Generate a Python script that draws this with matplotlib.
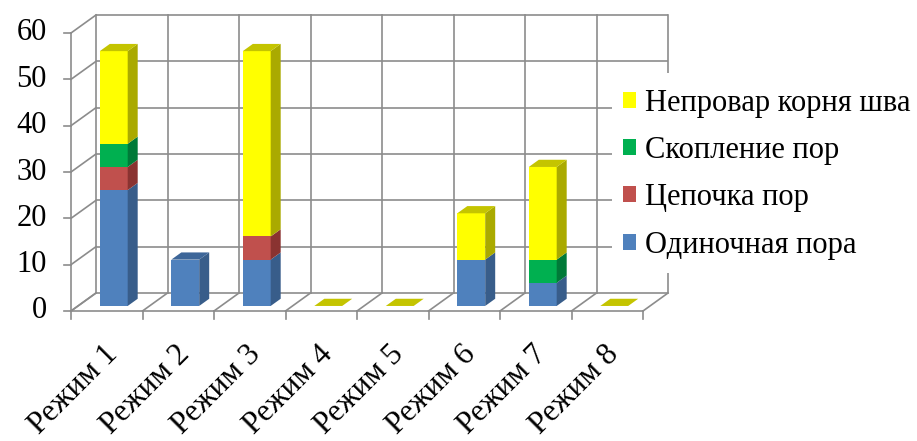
import matplotlib
matplotlib.use("Agg")
import matplotlib.pyplot as plt
from matplotlib.patches import Polygon, Rectangle, Patch
import numpy as np

categories = ["Режим 1", "Режим 2", "Режим 3", "Режим 4", "Режим 5", "Режим 6", "Режим 7", "Режим 8"]
series_names = ["Одиночная пора", "Цепочка пор", "Скопление пор", "Непровар корня шва"]
single_pore = [25, 10, 10, 0, 0, 10, 5, 0]
pore_chain = [5, 0, 5, 0, 0, 0, 0, 0]
pore_cluster = [5, 0, 0, 0, 0, 0, 5, 0]
lack_of_fusion = [20, 0, 40, 0, 0, 10, 20, 0]
y_ticks = [0, 10, 20, 30, 40, 50, 60]

series = [single_pore, pore_chain, pore_cluster, lack_of_fusion]
front_colors = ["#4F81BD", "#C0504D", "#00B050", "#FFFF00"]
side_colors = ["#385D8A", "#8A3331", "#007A38", "#AAAA00"]
top_colors = ["#3D6699", "#9A3A37", "#008A40", "#C4C400"]

plt.rcParams['font.family'] = ['Liberation Serif', 'DejaVu Serif']
FS = 22

W, H = 917, 441
fig = plt.figure(figsize=(W / 100, H / 100), dpi=100)
ax = fig.add_axes([0, 0, 1, 1])
ax.axis('off')

PX = 71.5            # pixels per category
PY = 278 / 60        # pixels per value unit
x0px, y0px = 71, 130
ax.set_xlim(-x0px / PX, (W - x0px) / PX)
ax.set_ylim(-y0px / PY, (H - y0px) / PY)

DX = 25 / PX         # depth offset of back wall
DY = 18 / PY
n = len(categories)
ymax = y_ticks[-1]
gc = "#8C8C8C"
glw = 1.2

# back wall grid
for v in y_ticks:
    ax.plot([DX, n + DX], [v + DY, v + DY], color=gc, lw=glw, zorder=1, solid_capstyle='butt')
    ax.plot([0, DX], [v, v + DY], color=gc, lw=glw, zorder=1)
for i in range(n + 1):
    ax.plot([i + DX, i + DX], [DY, ymax + DY], color=gc, lw=glw, zorder=1)
    ax.plot([i, i + DX], [0, DY], color=gc, lw=glw, zorder=1)
    ax.plot([i, i], [0, -8 / PY], color=gc, lw=glw, zorder=1)
ax.plot([0, n], [0, 0], color=gc, lw=glw, zorder=1)
ax.plot([0, 0], [0, ymax], color=gc, lw=glw, zorder=1)
for v in y_ticks:
    ax.plot([-7 / PX, 0], [v, v], color=gc, lw=glw, zorder=1)
    ax.text(-24 / PX, v, str(v), ha='right', va='center', fontsize=FS, color='black')

# bars
bw = 0.39
f0, bd = 0.28, 0.40
for i in range(n):
    xl = i + 0.5 - bw / 2 + f0 * DX
    xr = xl + bw
    yb = f0 * DY
    ox, oy = bd * DX, bd * DY
    top_c = top_colors[-1]
    for s in range(len(series)):
        v = series[s][i]
        if v <= 0:
            continue
        ax.add_patch(Rectangle((xl, yb), bw, v, facecolor=front_colors[s], edgecolor='none', zorder=3))
        ax.add_patch(Polygon([(xr, yb), (xr + ox, yb + oy), (xr + ox, yb + v + oy), (xr, yb + v)],
                             closed=True, facecolor=side_colors[s], edgecolor='none', zorder=3))
        yb += v
        top_c = top_colors[s]
    ax.add_patch(Polygon([(xl, yb), (xr, yb), (xr + ox, yb + oy), (xl + ox, yb + oy)],
                         closed=True, facecolor=top_c, edgecolor='none', zorder=3))

# category labels
for i, c in enumerate(categories):
    ax.text(i + 0.45, -6.3, c, rotation=45, rotation_mode='anchor', ha='right', va='top', fontsize=22.5)

# legend background (covers grid)
ax.add_patch(Rectangle((612 / W, 1 - 273 / H), (W - 612) / W, 200 / H,
                       transform=fig.transFigure, facecolor='white', edgecolor='none', zorder=5))
handles = [Patch(facecolor=front_colors[s], edgecolor='none') for s in range(len(series))][::-1]
labels = series_names[::-1]
fs_px = FS * 100 / 72
leg = ax.legend(handles, labels, loc='center left', bbox_to_anchor=(623 / W, 1 - 174 / H),
                bbox_transform=fig.transFigure, frameon=False, fontsize=FS, borderpad=0,
                borderaxespad=0, handlelength=13 / fs_px, handleheight=13 / fs_px,
                handletextpad=9 / fs_px, labelspacing=0.6)
leg.set_zorder(6)

fig.savefig("out.png", dpi=100)
